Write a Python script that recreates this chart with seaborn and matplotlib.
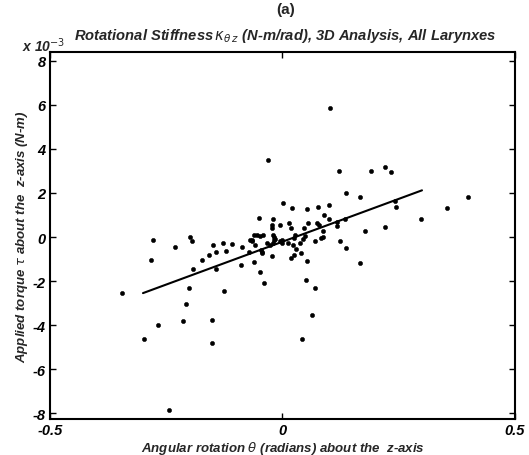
import numpy as np
import pandas as pd
import matplotlib
matplotlib.use("Agg")
import matplotlib.pyplot as plt
import seaborn as sns

# Angular rotation theta about the z-axis (radians)
theta = [
    -0.031, 0.002, 0.020, -0.050, -0.021, -0.023, -0.022, -0.006, 0.013, 0.018,
    -0.278, -0.199, -0.195, -0.231, -0.149, -0.129, -0.108, -0.086, -0.070, -0.066,
    -0.059, -0.142, -0.122, -0.158, -0.174, -0.283, -0.072, -0.045, -0.022, -0.192,
    -0.144, -0.089, -0.061, -0.048, -0.040, -0.200, -0.125, -0.345, 0.102, 0.122,
    0.190, 0.220, 0.233, 0.136, 0.167, 0.400, 0.353, 0.244, 0.241, 0.298,
    0.220, 0.177, 0.124, 0.136, 0.167, 0.053, 0.076, 0.099, 0.089, 0.100,
    0.055, 0.046, 0.075, 0.078, 0.088, 0.117, 0.118, 0.135, 0.087, 0.082,
    0.069, 0.048, 0.045, 0.027, 0.025, 0.038, 0.022, 0.012, 0.030, 0.040,
    0.025, 0.019, 0.052, 0.000, -0.001, -0.005, -0.016, -0.018, -0.020, -0.027,
    -0.034, -0.020, -0.018, -0.041, -0.048, -0.055, -0.062, -0.043, -0.046, 0.051,
    0.070, 0.064, 0.043, -0.207, -0.213, -0.151, -0.267, -0.297, -0.152, -0.244,
    -0.066,
]

# Applied torque tau about the z-axis (x 10^-3 N-m)
torque = [
    3.51, 1.56, 1.32, 0.87, 0.84, 0.53, 0.42, 0.53, 0.66, 0.42,
    -0.13, -0.01, -0.19, -0.46, -0.37, -0.26, -0.31, -0.43, -0.13, -0.19,
    -0.37, -0.67, -0.61, -0.83, -1.02, -1.02, -0.67, -0.70, -0.88, -1.46,
    -1.46, -1.25, -1.11, -1.58, -2.06, -2.30, -2.43, -2.55, 5.87, 2.98,
    3.01, 3.16, 2.96, 2.02, 1.80, 1.80, 1.32, 1.35, 1.65, 0.81,
    0.46, 0.29, -0.19, -0.51, -1.17, 1.29, 1.38, 1.46, 1.02, 0.81,
    0.63, 0.39, 0.66, 0.53, 0.29, 0.69, 0.51, 0.84, 0.01, -0.04,
    -0.19, 0.05, -0.07, 0.08, -0.04, -0.28, -0.37, -0.25, -0.55, -0.70,
    -0.79, -0.94, -1.07, -0.15, -0.25, -0.19, -0.07, -0.15, -0.25, -0.34,
    -0.25, 0.11, 0.02, 0.11, 0.05, 0.08, 0.11, -0.67, -0.60, -1.94,
    -2.30, -3.54, -4.62, -3.03, -3.82, -3.74, -3.98, -4.60, -4.80, -7.83,
    -0.15,
]

# Least-squares stiffness line, drawn over the fitted rotation range
fit_theta = [-0.30, 0.30]
fit_slope = 7.77       # x 10^-3 N-m/rad
fit_intercept = -0.21  # x 10^-3 N-m

x_ticks = [-0.5, 0, 0.5]
x_tick_labels = ["-0.5", "0", "0.5"]
y_ticks = [-8, -6, -4, -2, 0, 2, 4, 6, 8]

sns.set_theme(style="ticks")
plt.rcParams["font.family"] = ["Liberation Sans", "DejaVu Sans"]

fig = plt.figure(figsize=(5.29, 4.56), dpi=100)
ax = fig.add_axes([0.0945, 0.079, 0.879, 0.805])

points = pd.DataFrame({"theta": theta, "torque": torque})
sns.scatterplot(data=points, x="theta", y="torque", ax=ax, color="black",
                s=9, edgecolor="black", linewidth=0.4, legend=False, zorder=3)

fit = pd.DataFrame({"theta": fit_theta})
fit["torque"] = fit_slope * fit["theta"] + fit_intercept
sns.lineplot(data=fit, x="theta", y="torque", ax=ax, color="black",
             linewidth=1.5, zorder=2)

ax.set_xlim(-0.5, 0.5)
ax.set_ylim(-8.25, 8.4)
ax.set_xticks(x_ticks)
ax.set_xticklabels(x_tick_labels)
ax.set_yticks(y_ticks)
ax.set_yticklabels([str(v) for v in y_ticks])

ax.tick_params(direction="in", top=True, right=True, length=4, width=1.0,
               pad=3, labelsize=10.5, colors="black")
for lab in ax.get_xticklabels() + ax.get_yticklabels():
    lab.set_fontstyle("italic")
    lab.set_fontweight("bold")
for side in ax.spines.values():
    side.set_visible(True)
    side.set_linewidth(1.5)
    side.set_color("black")

ax.set_xlabel(r"Angular rotation $\theta$ (radians) about the  z-axis",
              fontsize=9.5, fontstyle="italic", fontweight="semibold", labelpad=1)
ax.set_ylabel(r"Applied torque $\tau$ about the  z-axis (N-m)",
              fontsize=9.5, fontstyle="italic", fontweight="semibold", labelpad=2)

fig.text(0.539, 0.978, "(a)", ha="center", va="center", fontsize=11,
         fontweight="bold")
fig.text(0.539, 0.921,
         r"Rotational Stiffness$\,\kappa_{\theta\,z}$ (N-m/rad), 3D Analysis, All Larynxes",
         ha="center", va="center", fontsize=10.6, fontstyle="italic",
         fontweight="semibold")
fig.text(0.042, 0.899, r"x 10$^{-3}$", ha="left", va="center", fontsize=10,
         fontstyle="italic", fontweight="bold")

fig.savefig("out.png", dpi=100, facecolor="white")
